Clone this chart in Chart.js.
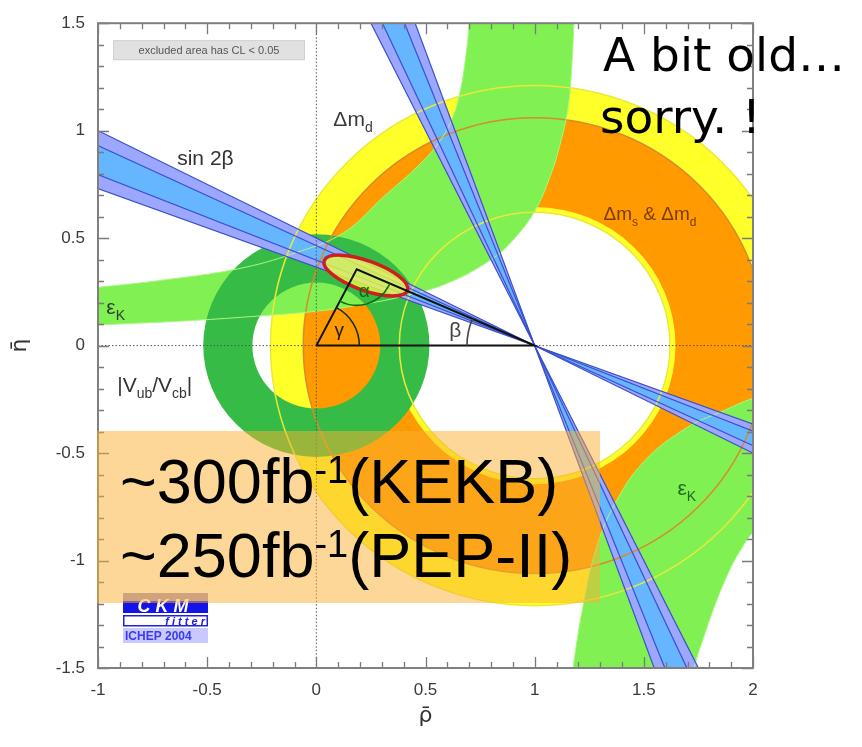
<!DOCTYPE html>
<html>
<head>
<meta charset="utf-8">
<script src="https://cdn.jsdelivr.net/npm/chart.js@4.4.1/dist/chart.umd.min.js"></script>
<style>
  html, body { margin: 0; padding: 0; background: #fff; }
  #wrap { width: 862px; height: 747px; position: relative; }
</style>
</head>
<body>
<div id="wrap"><canvas id="ckm" width="862" height="747"></canvas></div>
<script>
// ---- axis ticks ----
const rhoTicks = [-1, -0.5, 0, 0.5, 1, 1.5, 2];
const etaTicks = [-1.5, -1, -0.5, 0, 0.5, 1, 1.5];

// ---- circular constraints: [inner radius, outer radius] ----
const dmdCentre = [1, 0];          // Δm_d
const dmdRing = [0.62, 1.21];
const dmsCentre = [1, 0];          // Δm_s & Δm_d
const dmsRing = [0.645, 1.06];
const vubCentre = [0, 0];          // |Vub/Vcb|
const vubRing = [0.293, 0.518];

// ---- sin2β: tan β of the band edges (wide band, narrow band) ----
const sin2bOuter = [0.365, 0.5];
const sin2bInner = [0.3975, 0.465];

// ---- εK hyperbola band, upper-left branch ----
const epsUpperOuter = [
  [-1.10, 0.262], [-1.00, 0.271], [-0.70, 0.305], [-0.36, 0.357], [-0.10, 0.43],
  [0.125, 0.525], [0.31, 0.694], [0.45, 0.82], [0.55, 0.93], [0.62, 1.05],
  [0.66, 1.19], [0.685, 1.35], [0.70, 1.50], [0.705, 1.62]
];
const epsUpperInner = [
  [1.185, 1.62], [1.18, 1.50], [1.17, 1.30], [1.155, 1.12], [1.12, 0.95],
  [1.07, 0.785], [1.00, 0.625], [0.90, 0.49], [0.80, 0.40], [0.60, 0.29],
  [0.40, 0.23], [0.20, 0.19], [0.00, 0.16], [-0.30, 0.135], [-0.60, 0.115],
  [-1.00, 0.096], [-1.10, 0.09]
];
// ---- εK band, lower-right branch ----
const epsLowerInner = [
  [1.16, -1.65], [1.18, -1.47], [1.22, -1.22], [1.28, -0.95], [1.36, -0.75],
  [1.50, -0.54], [1.70, -0.38], [1.85, -0.31], [2.00, -0.245], [2.10, -0.22]
];
const epsLowerOuter = [
  [2.10, -0.80], [2.00, -0.87], [1.95, -0.94], [1.90, -1.03], [1.84, -1.17],
  [1.78, -1.34], [1.73, -1.50], [1.70, -1.65]
];

// ---- global fit ----
const apex = [0.185, 0.355];
const fitCentre = [0.227, 0.326];
const fitHalfAxes = [0.203, 0.069];
const fitTiltDeg = -19.9;

const colours = {
  yellow: '#ffff2a',
  orange: '#ff9a00',
  lightGreen: '#80f052',
  darkGreen: '#37bb47',
  lavender: '#9ca8ff',
  skyBlue: '#66b6ff',
  blueLine: '#3a4fcc',
  yellowLine: '#e9e93a',
  orangeLine: '#d98a2a',
  epsLine: '#a8f880',
  red: '#cc1f1f'
};

const toPts = arr => arr.map(([x, y]) => ({ x, y }));

// wedge through (1,0) bounded by η = t(1-ρ)
function shallowWedge([t1, t2]) {
  const L = -1.3, R = 2.3;
  return [
    { x: L, y: t2 * (1 - L) }, { x: 1, y: 0 }, { x: R, y: t2 * (1 - R) },
    { x: R, y: t1 * (1 - R) }, { x: 1, y: 0 }, { x: L, y: t1 * (1 - L) }
  ];
}
// mirrored solution (90° − β): ρ = 1 − t η
function steepWedge([t1, t2]) {
  const T = 1.8, B = -1.8;
  return [
    { x: 1 - t2 * T, y: T }, { x: 1, y: 0 }, { x: 1 - t2 * B, y: B },
    { x: 1 - t1 * B, y: B }, { x: 1, y: 0 }, { x: 1 - t1 * T, y: T }
  ];
}
const shallowLine = t => [{ x: -1.3, y: t * 2.3 }, { x: 2.3, y: -t * 1.3 }];
const steepLine = t => [{ x: 1 - t * 1.8, y: 1.8 }, { x: 1 + t * 1.8, y: -1.8 }];

// ---- datasets, listed bottom layer first ----
const layers = [];
function fillLayer(data, colour, tension, extra) {
  layers.push(Object.assign({
    data, showLine: true, fill: 'shape', backgroundColor: colour,
    borderColor: 'rgba(0,0,0,0)', borderWidth: 0, pointRadius: 0, tension, clip: 0
  }, extra || {}));
}
function lineLayer(data, colour, width, tension, extra) {
  layers.push(Object.assign({
    data, showLine: true, fill: false, borderColor: colour, borderWidth: width,
    pointRadius: 0, tension, clip: 0
  }, extra || {}));
}

fillLayer(toPts(epsUpperOuter.concat(epsUpperInner)), colours.lightGreen, 0.4);
fillLayer(toPts(epsLowerInner.concat(epsLowerOuter)), colours.lightGreen, 0.4, { then: 'vub' });
fillLayer(shallowWedge(sin2bOuter), colours.lavender, 0);
fillLayer(steepWedge(sin2bOuter), colours.lavender, 0);
fillLayer(shallowWedge(sin2bInner), colours.skyBlue, 0);
fillLayer(steepWedge(sin2bInner), colours.skyBlue, 0, { then: 'outlines' });
[epsUpperOuter, epsUpperInner, epsLowerInner, epsLowerOuter].forEach(b =>
  lineLayer(toPts(b), colours.epsLine, 1, 0.4));
sin2bOuter.concat(sin2bInner).forEach(t => {
  lineLayer(shallowLine(t), colours.blueLine, 1.2, 0);
  lineLayer(steepLine(t), colours.blueLine, 1.2, 0);
});
layers[layers.length - 1].then = 'fit';
lineLayer(toPts([[0, 0], [1, 0], apex, [0, 0]]), '#111', 2, 0);
layers.forEach((d, i) => { d.order = layers.length - i; });

// ---- drawing helpers ----
function pix(chart, p) {
  return { x: chart.scales.x.getPixelForValue(p[0]), y: chart.scales.y.getPixelForValue(p[1]) };
}
function radiiPx(chart, centre, r) {
  const c = pix(chart, centre);
  return [Math.abs(chart.scales.x.getPixelForValue(centre[0] + r) - c.x),
          Math.abs(chart.scales.y.getPixelForValue(centre[1] + r) - c.y)];
}
function clipArea(chart) {
  const { ctx, chartArea: a } = chart;
  ctx.save();
  ctx.beginPath();
  ctx.rect(a.left, a.top, a.right - a.left, a.bottom - a.top);
  ctx.clip();
}
function fillRing(chart, centre, ring, colour) {
  const ctx = chart.ctx, c = pix(chart, centre);
  const [ox, oy] = radiiPx(chart, centre, ring[1]);
  const [ix, iy] = radiiPx(chart, centre, ring[0]);
  ctx.beginPath();
  ctx.ellipse(c.x, c.y, ox, oy, 0, 0, Math.PI * 2);
  ctx.moveTo(c.x + ix, c.y);
  ctx.ellipse(c.x, c.y, ix, iy, 0, 0, Math.PI * 2);
  ctx.fillStyle = colour;
  ctx.fill('evenodd');
}
function strokeCircle(chart, centre, r, colour, width) {
  const ctx = chart.ctx, c = pix(chart, centre);
  const [rx, ry] = radiiPx(chart, centre, r);
  ctx.beginPath();
  ctx.ellipse(c.x, c.y, rx, ry, 0, 0, Math.PI * 2);
  ctx.strokeStyle = colour;
  ctx.lineWidth = width;
  ctx.stroke();
}
function angleMark(chart, at, from, to, r, colour) {
  const ctx = chart.ctx, c = pix(chart, at);
  const p1 = pix(chart, from), p2 = pix(chart, to);
  const a1 = Math.atan2(p1.y - c.y, p1.x - c.x);
  let d = Math.atan2(p2.y - c.y, p2.x - c.x) - a1;
  while (d > Math.PI) d -= 2 * Math.PI;
  while (d < -Math.PI) d += 2 * Math.PI;
  const rp = radiiPx(chart, at, r)[0];
  ctx.beginPath();
  ctx.arc(c.x, c.y, rp, a1, a1 + d, d < 0);
  ctx.strokeStyle = colour;
  ctx.lineWidth = 1.6;
  ctx.stroke();
}
// text with sub/superscript pieces: [text, 'sub' | 'sup' | '']
function rich(ctx, x, y, parts, size, colour, align, family) {
  family = family || '"Liberation Sans", Arial, sans-serif';
  const fontOf = k => (k ? Math.round(size * 0.65) : size) + 'px ' + family;
  let w = 0;
  parts.forEach(([t, k]) => { ctx.font = fontOf(k); w += ctx.measureText(t).width; });
  let cx = align === 'center' ? x - w / 2 : x;
  ctx.fillStyle = colour;
  ctx.textAlign = 'left';
  ctx.textBaseline = 'alphabetic';
  parts.forEach(([t, k]) => {
    ctx.font = fontOf(k);
    const dy = k === 'sub' ? size * 0.3 : k === 'sup' ? -size * 0.42 : 0;
    ctx.fillText(t, cx, y + dy);
    cx += ctx.measureText(t).width;
  });
}

// in-plot labels: anchor (ρ, η) of the text baseline
const plotLabels = [
  { at: [-0.508, 0.84], parts: [['sin 2β', '']], size: 21, colour: '#333', align: 'center' },
  { at: [0.078, 1.024], parts: [['Δm', ''], ['d', 'sub']], size: 21, colour: '#3a3a3a' },
  { at: [1.315, 0.583], parts: [['Δm', ''], ['s', 'sub'], [' & Δm', ''], ['d', 'sub']], size: 19, colour: '#7a3c00' },
  { at: [-0.962, 0.147], parts: [['ε', ''], ['K', 'sub']], size: 21, colour: '#2f3f2f' },
  { at: [1.654, -0.694], parts: [['ε', ''], ['K', 'sub']], size: 21, colour: '#1f6a1f' },
  { at: [-0.912, -0.216], parts: [['|V', ''], ['ub', 'sub'], ['/V', ''], ['cb', 'sub'], ['|', '']], size: 21, colour: '#333' },
  { at: [0.22, 0.225], parts: [['α', '']], size: 19, colour: '#136b13', align: 'center' },
  { at: [0.105, 0.046], parts: [['γ', '']], size: 19, colour: '#1a1a1a', align: 'center' },
  { at: [0.637, 0.041], parts: [['β', '']], size: 21, colour: '#444', align: 'center' }
];

const ckmPlugin = {
  id: 'ckmOverlay',
  beforeDatasetsDraw(chart) {
    clipArea(chart);
    fillRing(chart, dmdCentre, dmdRing, colours.yellow);
    fillRing(chart, dmsCentre, dmsRing, colours.orange);
    chart.ctx.restore();
  },
  afterDatasetDraw(chart, args) {
    const step = chart.data.datasets[args.index].then;
    if (!step) return;
    const ctx = chart.ctx;
    clipArea(chart);
    if (step === 'vub') {
      fillRing(chart, vubCentre, vubRing, colours.darkGreen);
    } else if (step === 'outlines') {
      strokeCircle(chart, dmdCentre, dmdRing[0], colours.yellowLine, 1.5);
      strokeCircle(chart, dmdCentre, dmdRing[1], colours.yellowLine, 1.5);
      strokeCircle(chart, dmsCentre, dmsRing[1], colours.orangeLine, 1.5);
    } else if (step === 'fit') {
      // dotted ρ = 0 and η = 0 axes
      const a = chart.chartArea;
      const o = pix(chart, [0, 0]);
      ctx.strokeStyle = '#555';
      ctx.lineWidth = 1;
      ctx.setLineDash([1.5, 2]);
      ctx.beginPath();
      ctx.moveTo(o.x, a.top); ctx.lineTo(o.x, a.bottom);
      ctx.moveTo(a.left, o.y); ctx.lineTo(a.right, o.y);
      ctx.stroke();
      ctx.setLineDash([]);
      // 95% CL contour of the global fit
      const th = fitTiltDeg * Math.PI / 180;
      const u = [Math.cos(th), Math.sin(th)], v = [-Math.sin(th), Math.cos(th)];
      const c = pix(chart, fitCentre);
      const pA = pix(chart, [fitCentre[0] + u[0] * fitHalfAxes[0], fitCentre[1] + u[1] * fitHalfAxes[0]]);
      const pB = pix(chart, [fitCentre[0] + v[0] * fitHalfAxes[1], fitCentre[1] + v[1] * fitHalfAxes[1]]);
      const ra = Math.hypot(pA.x - c.x, pA.y - c.y), rb = Math.hypot(pB.x - c.x, pB.y - c.y);
      const rot = Math.atan2(pA.y - c.y, pA.x - c.x);
      ctx.beginPath();
      ctx.ellipse(c.x, c.y, ra, rb, rot, 0, Math.PI * 2);
      ctx.fillStyle = 'rgba(232,248,70,0.82)';
      ctx.fill();
      ctx.strokeStyle = colours.red;
      ctx.lineWidth = 3.5;
      ctx.stroke();
    }
    ctx.restore();
  },
  afterDatasetsDraw(chart) {
    const ctx = chart.ctx;
    const a = chart.chartArea;
    clipArea(chart);
    // angle marks of the unitarity triangle
    angleMark(chart, [0, 0], [1, 0], apex, 0.197, '#1c2c1c');
    angleMark(chart, apex, [0, 0], [1, 0], 0.165, '#0f6e0f');
    angleMark(chart, [1, 0], [0, 0], apex, 0.31, '#444');
    plotLabels.forEach(l => {
      const p = pix(chart, l.at);
      rich(ctx, p.x, p.y, l.parts, l.size, l.colour, l.align);
    });
    // legend note box
    ctx.fillStyle = '#e1e1e1';
    ctx.fillRect(a.left + 15, a.top + 17, 192, 20);
    ctx.strokeStyle = '#d0d0d0';
    ctx.lineWidth = 1;
    ctx.strokeRect(a.left + 15.5, a.top + 17.5, 191, 19);
    ctx.fillStyle = '#555';
    ctx.font = '11px "Liberation Sans", Arial, sans-serif';
    ctx.textAlign = 'center';
    ctx.textBaseline = 'middle';
    ctx.fillText('excluded area has CL < 0.05', a.left + 111, a.top + 27.5);
    ctx.restore();

    // frame with inward ticks on all four sides
    const xs = chart.scales.x, ys = chart.scales.y;
    ctx.save();
    ctx.strokeStyle = '#7a7a7a';
    ctx.lineWidth = 1.3;
    ctx.beginPath();
    for (let i = -10; i <= 20; i++) {
      const x = Math.round(xs.getPixelForValue(i / 10)) + 0.5;
      const len = i % 5 === 0 ? 11 : 6;
      ctx.moveTo(x, a.bottom); ctx.lineTo(x, a.bottom - len);
      ctx.moveTo(x, a.top); ctx.lineTo(x, a.top + len);
    }
    for (let i = -15; i <= 15; i++) {
      const y = Math.round(ys.getPixelForValue(i / 10)) + 0.5;
      const len = i % 5 === 0 ? 11 : 6;
      ctx.moveTo(a.left, y); ctx.lineTo(a.left + len, y);
      ctx.moveTo(a.right, y); ctx.lineTo(a.right - len, y);
    }
    ctx.stroke();
    ctx.lineWidth = 2;
    ctx.strokeStyle = '#808080';
    ctx.strokeRect(a.left, a.top, a.right - a.left, a.bottom - a.top);
    ctx.restore();
  },
  afterDraw(chart) {
    const ctx = chart.ctx;
    const a = chart.chartArea;
    ctx.save();
    // CKMfitter badge
    const lx = a.left + 25, ly = a.bottom - 75, lw = 85;
    ctx.fillStyle = '#a398c8'; ctx.fillRect(lx, ly, lw, 8);
    ctx.fillStyle = '#1414e6'; ctx.fillRect(lx, ly + 8, lw, 12);
    ctx.fillStyle = '#fff';
    ctx.font = 'italic bold 18px "Liberation Sans", Arial, sans-serif';
    ctx.textAlign = 'center'; ctx.textBaseline = 'alphabetic';
    ctx.fillText('C K M', lx + 40, ly + 19);
    ctx.fillStyle = '#fff'; ctx.fillRect(lx, ly + 22, lw, 11);
    ctx.strokeStyle = '#2020e0'; ctx.lineWidth = 1.5;
    ctx.strokeRect(lx + 0.75, ly + 22.75, lw - 1.5, 10);
    ctx.fillStyle = '#2020e0';
    ctx.font = 'italic bold 11px "Liberation Sans", Arial, sans-serif';
    ctx.textAlign = 'right';
    ctx.fillText('f i t t e r', lx + lw - 3, ly + 32);
    ctx.fillStyle = '#c9c9ff'; ctx.fillRect(lx, ly + 35, lw, 15);
    ctx.fillStyle = '#3a3af2';
    ctx.font = 'bold 12px "Liberation Sans Narrow", "Liberation Sans", Arial, sans-serif';
    ctx.textAlign = 'left';
    ctx.fillText('ICHEP 2004', lx + 2, ly + 47);

    // luminosity note
    ctx.fillStyle = 'rgba(252,176,48,0.5)';
    ctx.fillRect(97, 431, 503, 172);
    const lumi = (y, head, tail) => {
      ctx.fillStyle = '#000';
      ctx.textAlign = 'left';
      ctx.font = '63px "Liberation Sans", Arial, sans-serif';
      ctx.fillText(head, 120, y);
      let w = ctx.measureText(head).width;
      ctx.font = '38px "Liberation Sans", Arial, sans-serif';
      ctx.fillText('-1', 120 + w, y - 20);
      w += ctx.measureText('-1').width;
      ctx.font = '63px "Liberation Sans", Arial, sans-serif';
      ctx.fillText(tail, 120 + w, y);
    };
    lumi(503, '~300fb', '(KEKB)');
    lumi(577, '~250fb', '(PEP-II)');

    // remark
    ctx.fillStyle = '#000';
    ctx.font = '47px "DejaVu Sans", sans-serif';
    ctx.fillText('A bit old…', 603, 71);
    ctx.fillText('sorry. !', 600, 133);
    ctx.restore();
  }
};

const tickFont = { family: '"Liberation Sans", Arial, sans-serif', size: 17 };

new Chart(document.getElementById('ckm'), {
  type: 'scatter',
  data: { datasets: layers },
  options: {
    responsive: false,
    animation: false,
    events: [],
    elements: { line: { capBezierPoints: false } },
    layout: { padding: { top: 15, right: 109, left: 0, bottom: 0 } },
    plugins: { legend: { display: false }, tooltip: { enabled: false } },
    scales: {
      x: {
        type: 'linear', position: 'bottom', min: -1, max: 2,
        afterBuildTicks: s => { s.ticks = rhoTicks.map(v => ({ value: v })); },
        afterFit: s => { s.height = 79; },
        grid: { display: false, drawTicks: false },
        border: { display: false },
        ticks: { padding: 12, color: '#3a3a3a', font: tickFont, maxRotation: 0, autoSkip: false, callback: v => String(v) },
        title: { display: true, text: '\u03c1\u0304', color: '#333', font: { family: '"DejaVu Sans", sans-serif', size: 22 }, padding: { top: 0, bottom: 18 } }
      },
      y: {
        type: 'linear', position: 'left', min: -1.5, max: 1.5,
        afterBuildTicks: s => { s.ticks = etaTicks.map(v => ({ value: v })); },
        afterFit: s => { s.width = 98; },
        grid: { display: false, drawTicks: false },
        border: { display: false },
        ticks: { padding: 13, color: '#3a3a3a', font: tickFont, autoSkip: false, callback: v => String(v) },
        title: { display: true, text: '\u03b7\u0304', color: '#333', font: { family: '"DejaVu Sans", sans-serif', size: 22 }, padding: { top: 7, bottom: 0 } }
      }
    }
  },
  plugins: [ckmPlugin]
});
</script>
</body>
</html>
